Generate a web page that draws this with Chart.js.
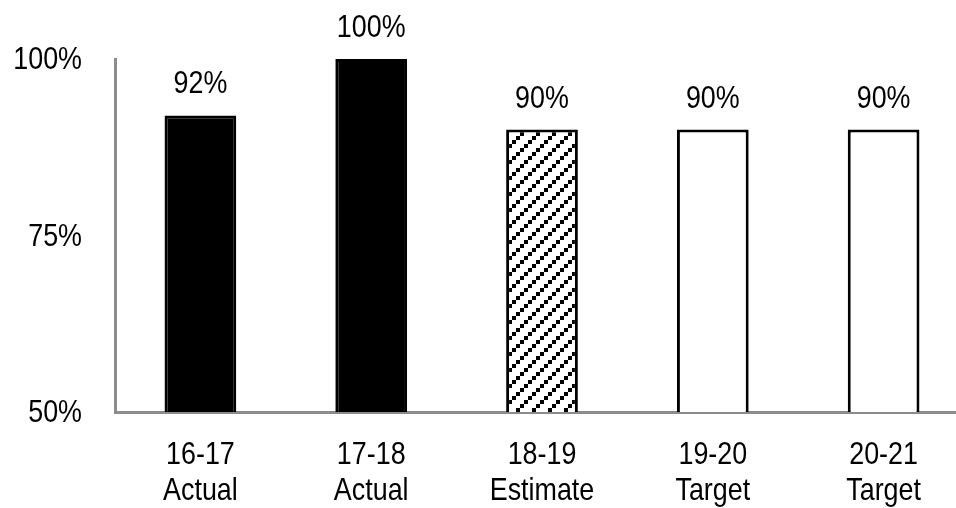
<!DOCTYPE html>
<html>
<head>
<meta charset="utf-8">
<script src="https://cdn.jsdelivr.net/npm/chart.js@4/dist/chart.umd.min.js"></script>
<style>
  html, body { margin: 0; padding: 0; background: #fff; overflow: hidden; }
  #wrap { width: 956px; height: 508px; overflow: hidden; }
</style>
</head>
<body>
<div id="wrap"><canvas id="rateChart" width="970" height="508"></canvas></div>
<script>
// ---- Données ----
const years = ["16-17", "17-18", "18-19", "19-20", "20-21"];
const status = ["Actual", "Actual", "Estimate", "Target", "Target"];
const rates = [92, 100, 90, 90, 90];
const yTicks = [50, 75, 100];

const FONT = "32px 'Liberation Sans', Arial, sans-serif";
const NARROW = 0.84; // police étroite simulée (type Arial Narrow)

// ---- Motif hachuré pour l'estimation ----
function makePattern() {
    const c = document.createElement("canvas");
    c.width = 16;
    c.height = 16;
    const g = c.getContext("2d");
    g.fillStyle = "#fff";
    g.fillRect(0, 0, 16, 16);
    g.fillStyle = "#000";
    for (let i = 0; i < 4; i++) {
        g.fillRect(i * 4, 12 - i * 4, 4, 4);
    }
    return g.createPattern(c, "repeat");
}

const estPattern = makePattern();
const fills = status.map(s => s === "Actual" ? "#000" : (s === "Estimate" ? estPattern : "#fff"));

function narrowText(ctx, text, x, y, align) {
    ctx.save();
    ctx.translate(x, y);
    ctx.scale(NARROW, 1);
    ctx.textAlign = align;
    ctx.fillText(text, 0, 0);
    ctx.restore();
}

// ---- Textes : valeurs, graduations, catégories ----
const textPlugin = {
    id: "narrowTexts",
    afterDraw(chart) {
        const ctx = chart.ctx;
        const meta = chart.getDatasetMeta(0);
        const xs = chart.scales.x;
        const ys = chart.scales.y;
        ctx.save();
        ctx.font = FONT;
        ctx.fillStyle = "#000";
        ctx.textBaseline = "alphabetic";
        meta.data.forEach((bar, i) => {
            narrowText(ctx, rates[i] + "%", bar.x, bar.y - 22, "center");
        });
        yTicks.forEach(v => {
            narrowText(ctx, v + "%", ys.left + ys.width - 33, ys.getPixelForValue(v) + 10, "right");
        });
        years.forEach((y, i) => {
            const x = xs.getPixelForValue(i);
            narrowText(ctx, y, x, xs.top + 52, "center");
            narrowText(ctx, status[i], x, xs.top + 88, "center");
        });
        ctx.restore();
    }
};

new Chart(document.getElementById("rateChart"), {
    type: "bar",
    data: {
        labels: years.map((y, i) => y + " " + status[i]),
        datasets: [{
            data: rates,
            backgroundColor: fills,
            borderColor: "#000",
            borderWidth: 3,
            borderSkipped: "bottom",
            categoryPercentage: 1,
            barPercentage: 0.42
        }]
    },
    options: {
        responsive: false,
        animation: false,
        layout: { padding: { top: 59, right: 1, left: 0, bottom: 0 } },
        plugins: {
            legend: { display: false },
            tooltip: { enabled: false }
        },
        scales: {
            x: {
                grid: { display: false, drawTicks: false },
                border: { display: true, color: "#8c8c8c", width: 3 },
                ticks: { color: "rgba(0,0,0,0)", maxRotation: 0 },
                afterFit(scale) { scale.height = 96; }
            },
            y: {
                min: 50,
                max: 100,
                afterBuildTicks(scale) { scale.ticks = yTicks.map(v => ({ value: v })); },
                grid: { display: false, drawTicks: false },
                border: { display: true, color: "#8c8c8c", width: 3 },
                ticks: { color: "rgba(0,0,0,0)" },
                afterFit(scale) { scale.width = 115; }
            }
        }
    },
    plugins: [textPlugin]
});
</script>
</body>
</html>
